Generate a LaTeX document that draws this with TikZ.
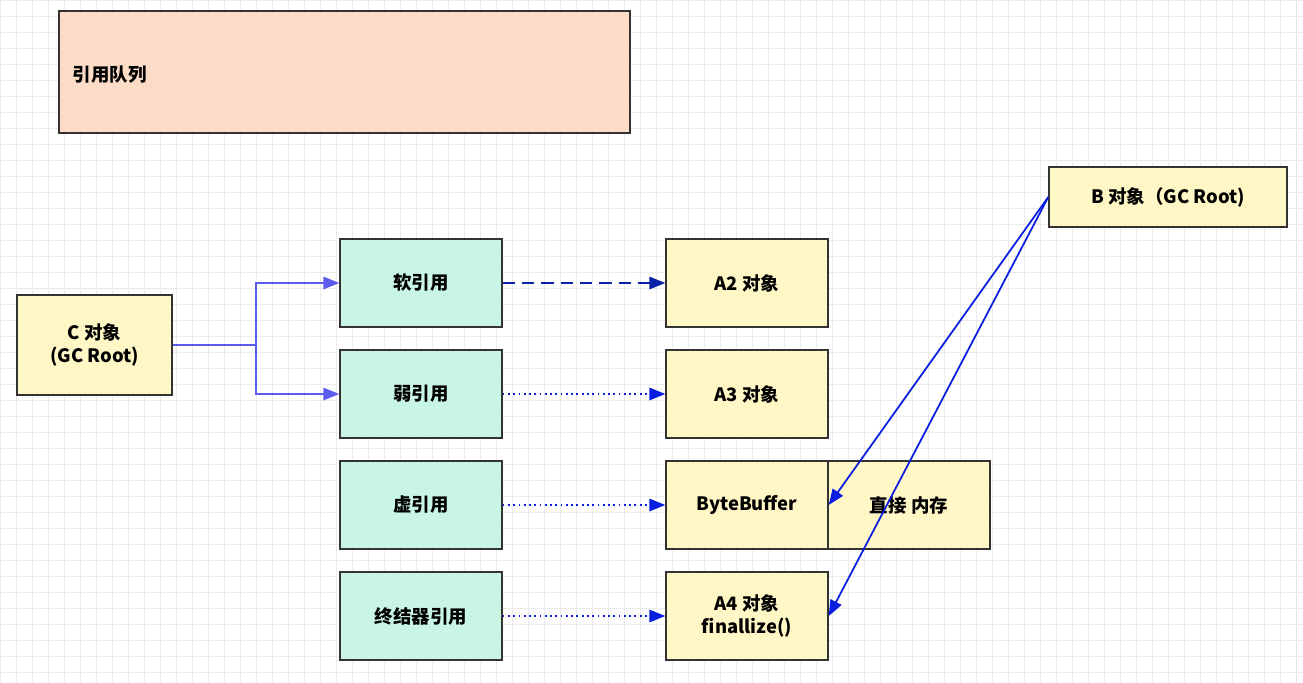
\documentclass[tikz,border=0pt]{standalone}
\usepackage{fontspec}
\setmainfont{Noto Sans CJK SC}
\usetikzlibrary{arrows.meta}
\definecolor{peach}{HTML}{FCDCC6}
\definecolor{yel}{HTML}{FFF8C6}
\definecolor{mint}{HTML}{C8F5E4}
\definecolor{cl}{HTML}{5C5CEE}
\definecolor{bl}{HTML}{0A1EE0}
\definecolor{db}{HTML}{0A22A8}
\begin{document}
\begin{tikzpicture}[x=0.02cm,y=-0.02cm,
 box/.style={draw=black!80,line width=0.8pt,font=\fontsize{10.5}{13}\selectfont\bfseries,align=center,inner sep=0},
 con/.style={line width=1pt,-{Triangle[length=9pt,width=7pt]}}]
\useasboundingbox (0,0) rectangle (1303,683);
\fill[white] (0,0) rectangle (1303,683);
\foreach \i in {0,16,...,1303} \draw[black!8,line width=0.4pt] (\i,0)--(\i,683);
\foreach \j in {0,16,...,683} \draw[black!8,line width=0.4pt] (0,\j)--(1303,\j);
\draw[box,fill=peach] (59,11) rectangle (630,133);
\node[box,draw=none,anchor=west] (q) at (72,75) {引用队列};
\node[box,fill=yel,minimum width=238*0.02cm,minimum height=60*0.02cm] (B) at (1168,197) {B 对象（GC Root)};
\node[box,fill=yel,minimum width=155*0.02cm,minimum height=100*0.02cm] (C) at (94.5,345) {C 对象\\(GC Root)};
\tikzset{r/.style={box,fill=mint,minimum width=162*0.02cm,minimum height=88*0.02cm},
 o/.style={box,fill=yel,minimum width=162*0.02cm,minimum height=88*0.02cm}}
\node[r] (s) at (421,283) {软引用};
\node[r] (w) at (421,394) {弱引用};
\node[r] (p) at (421,505) {虚引用};
\node[r] (f) at (421,616) {终结器引用};
\node[o] (a2) at (747,283) {A2 对象};
\node[o] (a3) at (747,394) {A3 对象};
\node[o] (bb) at (747,505) {ByteBuffer};
\node[o] (dm) at (909,505) {直接 内存};
\node[o] (a4) at (747,616) {A4 对象\\finallize()};
\coordinate (j) at (256,345);
\draw[cl,line width=1pt] (C.east)--(j);
\draw[con,cl] (j)|-(s.west);
\draw[con,cl] (j)|-(w.west);
\draw[con,db,dashed,dash pattern=on 7pt off 4pt] (s)--(a2);
\draw[con,bl,dotted] (w)--(a3);
\draw[con,bl,dotted] (p)--(bb);
\draw[con,bl,dotted] (f)--(a4);
\draw[con,bl] (B.west)--(bb.east);
\draw[con,bl] (B.west)--(a4.east);
\end{tikzpicture}
\end{document}
